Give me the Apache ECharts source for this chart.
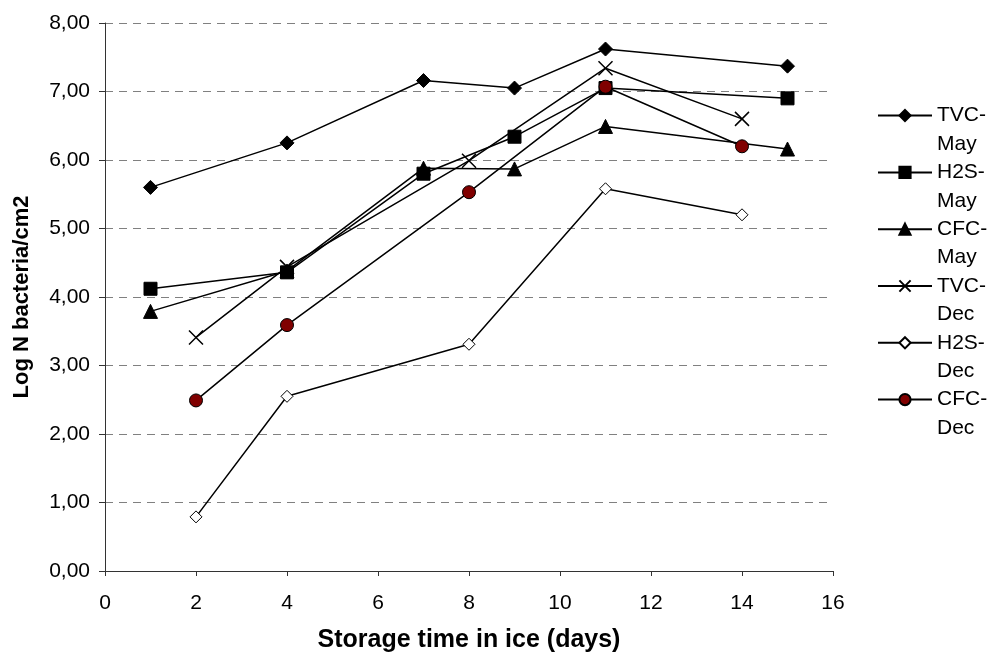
<!DOCTYPE html>
<html>
<head>
<meta charset="utf-8">
<script src="https://cdn.jsdelivr.net/npm/echarts@6/dist/echarts.min.js"></script>
<style>
html, body { margin: 0; padding: 0; background: #fff; }
#chart { width: 988px; height: 661px; }
</style>
</head>
<body>
<div id="chart"></div>
<script>
// storage days per batch
const daysMay = [1, 4, 7, 9, 11, 15];
const daysDec = [2, 4, 8, 11, 14];

// log N bacteria/cm2
const tvcMay = [5.60, 6.25, 7.16, 7.05, 7.62, 7.37];
const h2sMay = [4.12, 4.36, 5.80, 6.34, 7.05, 6.90];
const cfcMay = [3.79, 4.38, 5.88, 5.87, 6.49, 6.16];
const tvcDec = [3.41, 4.44, 5.99, 7.34, 6.60];
const h2sDec = [0.79, 2.55, 3.31, 5.58, 5.20];
const cfcDec = [2.49, 3.59, 5.53, 7.07, 6.20];

const seriesNames = ['TVC-May', 'H2S-May', 'CFC-May', 'TVC-Dec', 'H2S-Dec', 'CFC-Dec'];

function pairs(xs, ys) {
    return xs.map(function (x, i) { return [x, ys[i]]; });
}

const crossPath = 'path://M0,0L10,10M10,0L0,10';

function makeSeries(name, xs, ys, symbol, size, fill) {
    return {
        name: name,
        type: 'line',
        data: pairs(xs, ys),
        symbol: symbol,
        symbolSize: size,
        showAllSymbol: true,
        lineStyle: { color: '#000', width: 1.5 },
        itemStyle: { color: fill, borderColor: '#000', borderWidth: symbol === crossPath ? 1.5 : 1 },
        emphasis: { disabled: true },
        z: 3
    };
}

let myChart = echarts.init(document.getElementById('chart'));

let option = {
    backgroundColor: '#fff',
    animation: false,
    textStyle: { fontFamily: 'Liberation Sans, Arial, sans-serif' },
    grid: { left: 105, right: 155, top: 23, bottom: 90 },
    legend: {
        orient: 'vertical',
        left: 877,
        top: 73,
        padding: 0,
        itemWidth: 54,
        itemHeight: 14,
        itemGap: -28.4,
        data: seriesNames,
        // empty first line keeps the first word level with the marker
        formatter: function (name) { return ' \n' + name.replace('-', '-\n'); },
        textStyle: {
            fontSize: 21,
            color: '#000',
            lineHeight: 28.4,
            fontFamily: 'Liberation Sans, Arial, sans-serif'
        }
    },
    xAxis: {
        type: 'value',
        min: 0,
        max: 16,
        interval: 2,
        name: 'Storage time in ice (days)',
        nameLocation: 'middle',
        nameGap: 57,
        nameTextStyle: { fontSize: 25, fontWeight: 'bold', color: '#000' },
        axisLine: { lineStyle: { color: '#333', width: 1 } },
        axisTick: { show: true, length: 5, inside: false, lineStyle: { color: '#333' } },
        axisLabel: { fontSize: 21, color: '#000', margin: 22 },
        splitLine: { show: false }
    },
    yAxis: {
        type: 'value',
        min: 0,
        max: 8,
        interval: 1,
        name: 'Log N bacteria/cm2',
        nameLocation: 'middle',
        nameGap: 72,
        nameTextStyle: { fontSize: 22, fontWeight: 'bold', color: '#000' },
        axisLine: { show: true, lineStyle: { color: '#333', width: 1 } },
        axisTick: { show: true, length: 6, lineStyle: { color: '#333' } },
        axisLabel: {
            fontSize: 21,
            color: '#000',
            margin: 15,
            formatter: function (v) { return v.toFixed(2).replace('.', ','); }
        },
        splitLine: { show: true, lineStyle: { color: '#808080', type: [8, 6], width: 1 } }
    },
    series: [
        makeSeries(seriesNames[0], daysMay, tvcMay, 'diamond', 14, '#000'),
        makeSeries(seriesNames[1], daysMay, h2sMay, 'rect', 13, '#000'),
        makeSeries(seriesNames[2], daysMay, cfcMay, 'triangle', 14, '#000'),
        makeSeries(seriesNames[3], daysDec, tvcDec, crossPath, 14, 'rgba(0,0,0,0)'),
        makeSeries(seriesNames[4], daysDec, h2sDec, 'diamond', 12, '#fff'),
        makeSeries(seriesNames[5], daysDec, cfcDec, 'circle', 13, '#800000')
    ]
};

myChart.setOption(option);
</script>
</body>
</html>
